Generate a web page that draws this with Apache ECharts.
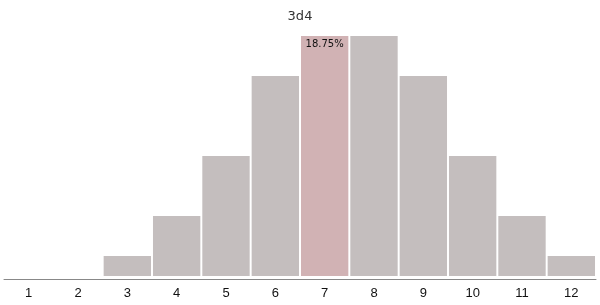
<!DOCTYPE html>
<html><head><meta charset="utf-8">
<script src="https://cdn.jsdelivr.net/npm/echarts@6/dist/echarts.min.js"></script>
<style>html,body{margin:0;padding:0;background:#fff}#c{width:600px;height:305px}</style>
</head><body><div id="c"></div>
<script>
const categories = ['1','2','3','4','5','6','7','8','9','10','11','12'];
const percents = [0, 0, 1.5625, 4.6875, 9.375, 15.625, 18.75, 18.75, 15.625, 9.375, 4.6875, 1.5625];
const highlightIndex = 6;
const highlightLabel = '18.75%';
const title = '3d4';

const chart = echarts.init(document.getElementById('c'), null, {renderer:'canvas'});
const data = percents.map((v,i)=>{
  const d = {value:v};
  if(i===highlightIndex){
    d.itemStyle = {color:'#d1b2b4'};
    d.label = {show:true, position:'insideTop', distance:3, formatter:highlightLabel, color:'#111', fontSize:10, fontFamily:'DejaVu Sans, Verdana, sans-serif'};
  }
  return d;
});
chart.setOption({
  animation:false,
  title:{text:title,left:'center',top:5,textStyle:{fontSize:13,fontWeight:'normal',color:'#333',fontFamily:'DejaVu Sans, Verdana, sans-serif'}},
  grid:{left:4,right:4,top:36,bottom:26,containLabel:false},
  xAxis:{type:'category',data:categories,
    axisLine:{onZero:false,lineStyle:{color:'#888',width:1}},
    axisTick:{show:false},
    axisLabel:{color:'#111',fontSize:13,margin:8,fontFamily:'Liberation Sans, Arial, sans-serif'}},
  yAxis:{type:'value',min:-0.234375,max:18.75,show:false,splitLine:{show:false}},
  series:[{type:'bar',data:data,barCategoryGap:'4%',itemStyle:{color:'#c4bebe'}}]
});
</script></body></html>
